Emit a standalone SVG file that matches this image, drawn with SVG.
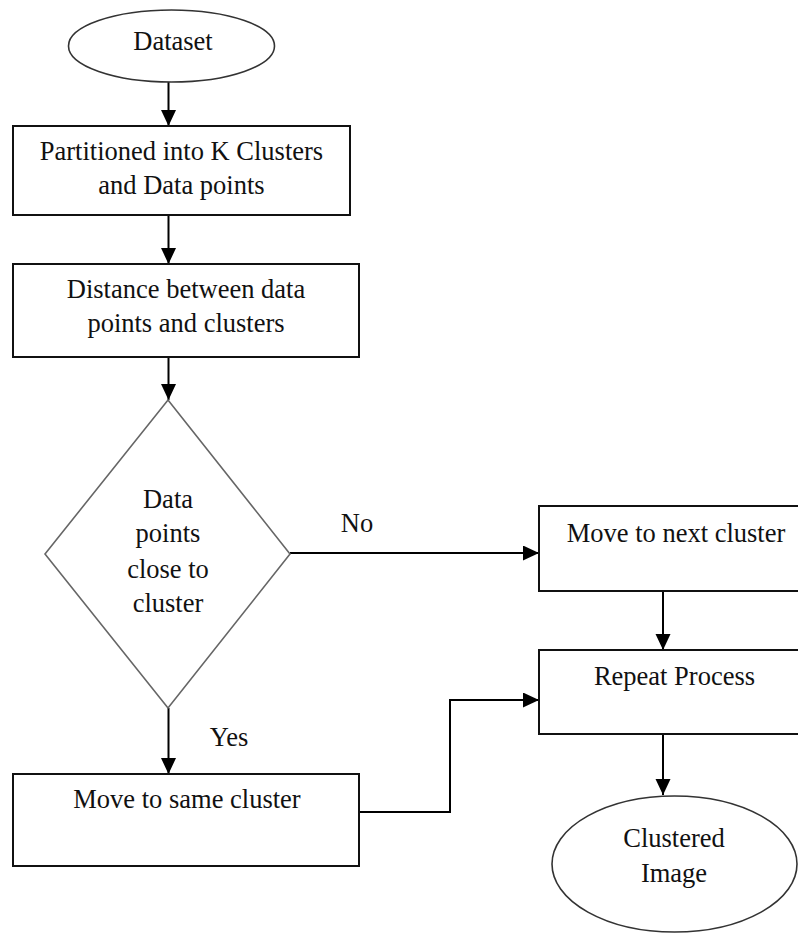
<svg xmlns="http://www.w3.org/2000/svg" width="798" height="933" viewBox="0 0 798 933">
<style>
.box{fill:#fff;stroke:#111;stroke-width:2}
.ell{fill:#fff;stroke:#333;stroke-width:1.6}
.dia{fill:#fff;stroke:#666;stroke-width:1.6}
.t{font-family:"Liberation Serif","Times New Roman",serif;font-size:26.5px;fill:#111;text-anchor:middle}
.c{fill:none;stroke:#000;stroke-width:2}
</style>
<defs>
<marker id="ah" markerUnits="userSpaceOnUse" markerWidth="18" markerHeight="16" refX="16" refY="7.5" orient="auto">
<path d="M0,0 L16,7.5 L0,15 Z" fill="#000"/>
</marker>
</defs>
<rect width="798" height="933" fill="#fff"/>
<g id="connectors">
<line class="c" x1="168.5" y1="82" x2="168.5" y2="126" marker-end="url(#ah)"/>
<line class="c" x1="168.5" y1="215" x2="168.5" y2="264" marker-end="url(#ah)"/>
<line class="c" x1="168.5" y1="357" x2="168.5" y2="400" marker-end="url(#ah)"/>
<line class="c" x1="290" y1="553" x2="539" y2="553" marker-end="url(#ah)"/>
<line class="c" x1="168.5" y1="708" x2="168.5" y2="774" marker-end="url(#ah)"/>
<line class="c" x1="663" y1="591" x2="663" y2="650" marker-end="url(#ah)"/>
<line class="c" x1="663" y1="734" x2="663" y2="795" marker-end="url(#ah)"/>
<polyline class="c" points="359,812 450,812 450,700 539,700" marker-end="url(#ah)"/>
<text class="t" x="357" y="532">No</text>
<text class="t" x="229" y="746">Yes</text>
</g>
<g id="dataset">
<ellipse class="ell" cx="171.5" cy="46" rx="103" ry="36"/>
<text class="t" x="173" y="50">Dataset</text>
</g>
<g id="partition">
<rect class="box" x="13" y="126" width="337" height="89"/>
<text class="t" x="181.5" y="160">Partitioned into K Clusters</text>
<text class="t" x="181.5" y="194">and Data points</text>
</g>
<g id="distance">
<rect class="box" x="13" y="264" width="346" height="93"/>
<text class="t" x="186" y="298">Distance between data</text>
<text class="t" x="186" y="332">points and clusters</text>
</g>
<g id="decision">
<polygon class="dia" points="168,400 290,554 168,708 45,554"/>
<text class="t" x="168" y="508">Data</text>
<text class="t" x="168" y="542">points</text>
<text class="t" x="168" y="578">close to</text>
<text class="t" x="168" y="612">cluster</text>
</g>
<g id="next">
<rect class="box" x="539" y="506" width="280" height="85"/>
<text class="t" x="676" y="542">Move to next cluster</text>
</g>
<g id="repeat">
<rect class="box" x="539" y="650" width="280" height="84"/>
<text class="t" x="674.5" y="685">Repeat Process</text>
</g>
<g id="same">
<rect class="box" x="13" y="774" width="346" height="92"/>
<text class="t" x="187" y="808">Move to same cluster</text>
</g>
<g id="clustered">
<ellipse class="ell" cx="674.5" cy="864" rx="122.5" ry="68"/>
<text class="t" x="674" y="847">Clustered</text>
<text class="t" x="674" y="882">Image</text>
</g>
</svg>
